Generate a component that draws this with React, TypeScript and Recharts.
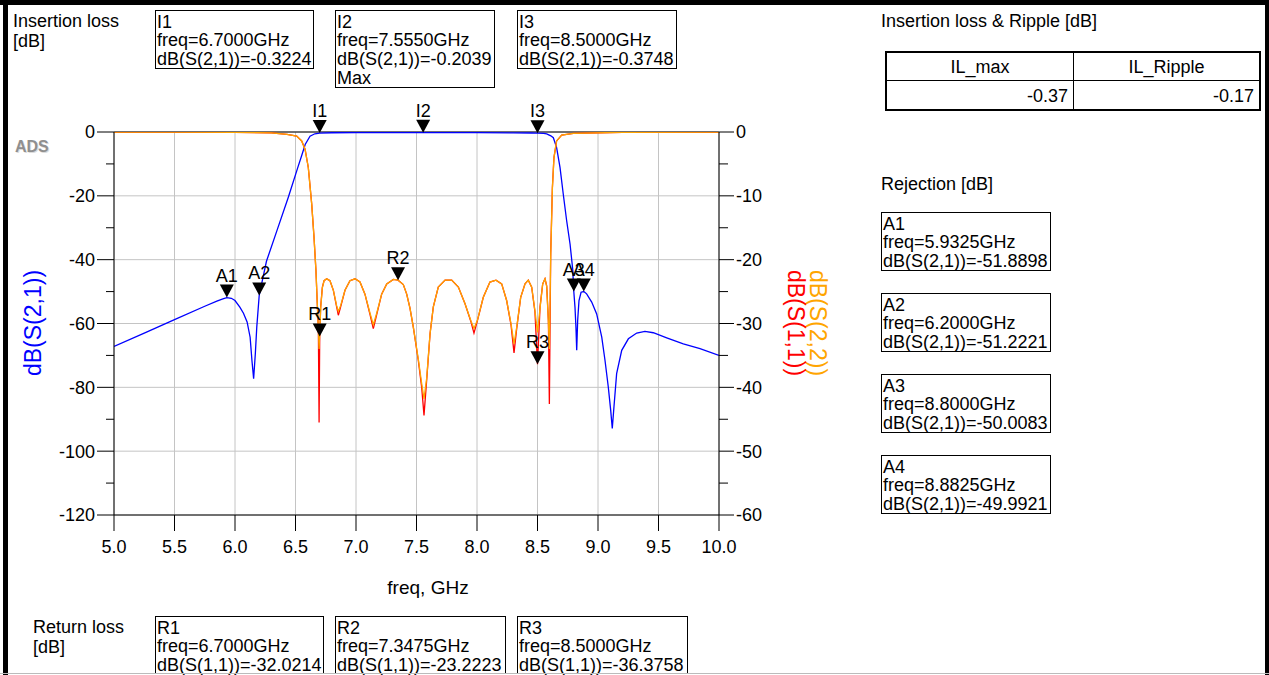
import React from "react";
import { CartesianGrid, Line, LineChart, ReferenceDot, XAxis, YAxis } from "recharts";

const FONT = '"Liberation Sans", Arial, Helvetica, sans-serif';
const BLUE = "#0000ff";
const RED = "#ff0000";
const ORANGE = "#ffa500";

// axis ticks
const freqTicks = [5, 5.5, 6, 6.5, 7, 7.5, 8, 8.5, 9, 9.5, 10];
const leftTicks = [-120, -110, -100, -90, -80, -70, -60, -50, -40, -30, -20, -10, 0];
const rightTicks = [-60, -55, -50, -45, -40, -35, -30, -25, -20, -15, -10, -5, 0];
const gridDb = [-120, -100, -80, -60, -40, -20, 0];

// dB(S(2,1)) - left axis
const s21Freq = [
  5.0, 5.25, 5.5, 5.75, 5.85, 5.9, 5.9325, 5.97, 6.0, 6.04, 6.07, 6.1, 6.125, 6.14, 6.154,
  6.168, 6.18, 6.2, 6.22, 6.26, 6.35, 6.44, 6.52, 6.55, 6.58, 6.62, 6.66, 6.7, 6.8, 7.0,
  7.3, 7.555, 7.8, 8.0, 8.3, 8.45, 8.5, 8.55, 8.576, 8.61, 8.631, 8.658, 8.686, 8.713,
  8.741, 8.769, 8.791, 8.8, 8.81, 8.818, 8.824, 8.832, 8.843, 8.86, 8.8825, 8.906, 8.948,
  8.989, 9.031, 9.058, 9.085, 9.105, 9.118, 9.132, 9.154, 9.196, 9.251, 9.32, 9.388, 9.457,
  9.568, 9.705, 9.843, 10.0,
];
const s21Db = [
  -67.2, -63.0, -58.8, -54.6, -53.0, -52.3, -51.89, -52.1, -52.8, -54.9, -56.8, -59.5, -64.3,
  -71.6, -77.3, -69.5, -61.1, -51.22, -47.6, -40.5, -30.5, -20.5, -11.0, -7.5, -3.9, -1.3,
  -0.55, -0.3224, -0.24, -0.22, -0.21, -0.2039, -0.21, -0.22, -0.26, -0.31, -0.3748, -0.46,
  -0.6, -1.2, -1.8, -4.9, -11.1, -19.5, -27.8, -35.1, -43.0, -50.0, -55.0, -61.5, -68.4,
  -59.0, -52.8, -50.2, -49.99, -50.7, -53.3, -57.0, -64.3, -71.6, -79.9, -87.2, -92.9, -86.1,
  -75.7, -68.4, -64.8, -63.0, -62.5, -62.9, -64.5, -66.4, -67.9, -70.0,
];

// dB(S(1,1)) and dB(S(2,2)) - right axis
const sFreq = [
  5.0, 5.5, 6.0, 6.3, 6.43, 6.51, 6.551, 6.579, 6.606, 6.634, 6.653, 6.669, 6.68, 6.689,
  6.695, 6.7, 6.708, 6.722, 6.736, 6.758, 6.785, 6.813, 6.84, 6.854, 6.873, 6.909, 6.95,
  6.992, 7.033, 7.074, 7.116, 7.143, 7.171, 7.212, 7.254, 7.309, 7.3475, 7.391, 7.419, 7.446,
  7.474, 7.515, 7.543, 7.562, 7.584, 7.612, 7.639, 7.68, 7.736, 7.791, 7.846, 7.901, 7.948,
  7.975, 8.003, 8.052, 8.107, 8.157, 8.204, 8.245, 8.281, 8.306, 8.328, 8.361, 8.397, 8.424,
  8.452, 8.479, 8.5, 8.521, 8.543, 8.562, 8.576, 8.59, 8.598, 8.609, 8.623, 8.636, 8.658,
  8.7, 8.796, 9.2, 10.0,
];
const s11Db = [
  0, -0.01, -0.04, -0.14, -0.36, -0.65, -1.4, -2.7, -5.6, -11.3, -16.5, -21.7, -26.9, -30.8,
  -45.5, -32.02, -27.4, -24.3, -23.3, -23.0, -23.3, -24.8, -27.4, -28.7, -27.4, -24.8, -23.3,
  -23.0, -23.5, -25.4, -28.6, -30.8, -28.6, -25.4, -23.8, -23.1, -23.22, -23.9, -25.4, -27.6,
  -30.6, -35.8, -40.0, -44.4, -38.9, -31.6, -27.4, -24.3, -23.2, -23.2, -24.3, -26.9, -29.6,
  -31.5, -29.6, -25.9, -23.5, -23.2, -23.8, -26.4, -30.2, -34.6, -30.8, -25.9, -23.8, -23.2,
  -24.3, -28.2, -36.38, -27.4, -23.8, -23.0, -24.1, -29.5, -42.6, -19.1, -8.7, -4.0, -1.4,
  -0.47, -0.2, -0.05, 0,
];
const s22Db = [
  0, -0.01, -0.04, -0.14, -0.36, -0.65, -1.4, -2.7, -5.6, -11.3, -16.5, -21.7, -26.9, -30.6,
  -34.0, -31.5, -27.6, -24.4, -23.3, -23.0, -23.3, -24.8, -27.2, -28.1, -27.2, -24.8, -23.3,
  -23.0, -23.5, -25.4, -28.4, -30.2, -28.4, -25.4, -23.8, -23.1, -23.2, -23.9, -25.4, -27.6,
  -30.6, -35.6, -39.4, -41.8, -38.6, -31.6, -27.4, -24.3, -23.2, -23.2, -24.3, -26.9, -29.5,
  -30.8, -29.5, -25.9, -23.5, -23.2, -23.8, -26.4, -30.0, -33.2, -30.6, -25.9, -23.8, -23.2,
  -24.3, -28.0, -31.4, -27.6, -23.8, -23.0, -24.2, -29.8, -34.0, -19.6, -8.9, -4.0, -1.4,
  -0.47, -0.2, -0.05, 0,
];

// markers
const markerNames = ["I1", "I2", "I3", "A1", "A2", "A3", "A4", "R1", "R2", "R3"];
const markerFreqs = [6.7, 7.555, 8.5, 5.9325, 6.2, 8.8, 8.8825, 6.7, 7.3475, 8.5];
const markerValues = [
  -0.3224, -0.2039, -0.3748, -51.8898, -51.2221, -50.0083, -49.9921, -32.0214, -23.2223, -36.3758,
];
const markerTraces = [
  "S(2,1)", "S(2,1)", "S(2,1)", "S(2,1)", "S(2,1)", "S(2,1)", "S(2,1)", "S(1,1)", "S(1,1)", "S(1,1)",
];
const markerNotes = ["", "Max", "", "", "", "", "", "", "", ""];

const tableHeaders = ["IL_max", "IL_Ripple"];
const tableValues = ["-0.37", "-0.17"];

const s21Data = s21Freq.map((f, i) => ({ f, v: s21Db[i] }));
const s11Data = sFreq.map((f, i) => ({ f, v: s11Db[i] }));
const s22Data = sFreq.map((f, i) => ({ f, v: s22Db[i] }));

const markers = markerNames.map((name, i) => ({
  name,
  f: markerFreqs[i],
  v: markerValues[i],
  axis: markerTraces[i] === "S(2,1)" ? "left" : "right",
  lines: [
    name,
    `freq=${markerFreqs[i].toFixed(4)}GHz`,
    `dB(${markerTraces[i]})=${markerValues[i].toFixed(4)}`,
    ...(markerNotes[i] ? [markerNotes[i]] : []),
  ],
}));

const tickText = { fontSize: 18, fontFamily: FONT, fill: "#000" };

function LeftTick(props: any) {
  const { x, y, payload } = props;
  const major = payload.value % 20 === 0;
  return (
    <g>
      <line x1={x - (major ? 17 : 8)} x2={x} y1={y} y2={y} stroke="#000" />
      {major && (
        <text x={x - 19} y={y} dy="0.36em" textAnchor="end" {...tickText}>
          {payload.value}
        </text>
      )}
    </g>
  );
}

function RightTick(props: any) {
  const { x, y, payload } = props;
  const major = payload.value % 10 === 0;
  return (
    <g>
      <line x1={x} x2={x + (major ? 15 : 9)} y1={y} y2={y} stroke="#000" />
      {major && (
        <text x={x + 17} y={y} dy="0.36em" textAnchor="start" {...tickText}>
          {payload.value}
        </text>
      )}
    </g>
  );
}

function FreqTick(props: any) {
  const { x, y, payload } = props;
  return (
    <g>
      <line x1={x} x2={x} y1={y} y2={y + 16} stroke="#000" />
      <text x={x} y={y + 38} textAnchor="middle" {...tickText}>
        {payload.value.toFixed(1)}
      </text>
    </g>
  );
}

function MarkerGlyph({ cx, cy, label }: { cx: number; cy: number; label: string }) {
  return (
    <g>
      <path d={`M${cx},${cy} L${cx - 7},${cy - 13} L${cx + 7},${cy - 13} Z`} fill="#000" />
      <text x={cx} y={cy - 16} textAnchor="middle" {...tickText}>
        {label}
      </text>
    </g>
  );
}

function InfoBox({ left, top, width, height, lines }: any) {
  return (
    <div
      style={{
        position: "absolute",
        left,
        top,
        width,
        height,
        boxSizing: "border-box",
        border: "1px solid #000",
        padding: "1.5px 1px 0 1px",
        font: `18px ${FONT}`,
        lineHeight: "18.8px",
        whiteSpace: "pre",
        color: "#000",
      }}
    >
      {lines.map((l: string) => (
        <div key={l}>{l}</div>
      ))}
    </div>
  );
}

function Caption({ left, top, lines, size = 18, center = false }: any) {
  return (
    <div
      style={{
        position: "absolute",
        left,
        top,
        font: `${size}px ${FONT}`,
        lineHeight: "19.5px",
        whiteSpace: "pre",
        color: "#000",
        transform: center ? "translateX(-50%)" : undefined,
      }}
    >
      {lines.map((l: string) => (
        <div key={l}>{l}</div>
      ))}
    </div>
  );
}

const boxSpots: Record<string, [number, number, number, number]> = {
  I1: [155, 10, 159, 59],
  I2: [335, 10, 160, 78],
  I3: [517, 10, 160, 59],
  A1: [881, 212, 170, 59],
  A2: [881, 293, 170, 59],
  A3: [881, 374, 170, 59],
  A4: [881, 455, 170, 59],
  R1: [155, 616, 169, 58],
  R2: [335, 616, 171, 58],
  R3: [517, 616, 171, 58],
};

export default function App() {
  return (
    <div
      style={{
        position: "absolute",
        left: 0,
        top: 0,
        width: 1269,
        height: 675,
        overflow: "hidden",
        background: "#fff",
        fontFamily: FONT,
      }}
    >
      <LineChart width={1269} height={675} margin={{ top: 132, right: 490, bottom: 120, left: 0 }}>
        <CartesianGrid
          yAxisId="left"
          stroke="#c4c4c4"
          horizontalValues={gridDb}
          verticalValues={freqTicks}
        />
        <CartesianGrid yAxisId="left" stroke="#000" horizontalValues={[0]} vertical={false} />
        <XAxis
          type="number"
          dataKey="f"
          domain={[5, 10]}
          ticks={freqTicks}
          interval={0}
          height={40}
          tickSize={0}
          tickMargin={0}
          tickLine={false}
          axisLine={{ stroke: "#000" }}
          tick={<FreqTick />}
          allowDataOverflow
        />
        <YAxis
          yAxisId="left"
          domain={[-120, 0]}
          ticks={leftTicks}
          interval={0}
          width={114}
          tickSize={0}
          tickMargin={0}
          tickLine={false}
          axisLine={{ stroke: "#000" }}
          tick={<LeftTick />}
          allowDataOverflow
        />
        <YAxis
          yAxisId="right"
          orientation="right"
          domain={[-60, 0]}
          ticks={rightTicks}
          interval={0}
          width={60}
          tickSize={0}
          tickMargin={0}
          tickLine={false}
          axisLine={{ stroke: "#000" }}
          tick={<RightTick />}
          allowDataOverflow
        />
        <Line
          data={s21Data}
          dataKey="v"
          yAxisId="left"
          type="linear"
          stroke={BLUE}
          strokeWidth={1.3}
          dot={false}
          isAnimationActive={false}
        />
        <Line
          data={s11Data}
          dataKey="v"
          yAxisId="right"
          type="linear"
          stroke={RED}
          strokeWidth={1.3}
          dot={false}
          isAnimationActive={false}
        />
        <Line
          data={s22Data}
          dataKey="v"
          yAxisId="right"
          type="linear"
          stroke={ORANGE}
          strokeWidth={1.3}
          dot={false}
          isAnimationActive={false}
        />
        {markers.map((m) => (
          <ReferenceDot
            key={m.name}
            x={m.f}
            y={m.v}
            yAxisId={m.axis}
            r={0}
            ifOverflow="visible"
            shape={(p: any) => <MarkerGlyph cx={p.cx} cy={p.cy} label={m.name} />}
          />
        ))}
      </LineChart>

      {/* axis titles */}
      <svg
        width={1269}
        height={675}
        style={{ position: "absolute", left: 0, top: 0, pointerEvents: "none" }}
      >
        <text
          transform="translate(33,323) rotate(-90)"
          textAnchor="middle"
          dominantBaseline="central"
          fontSize={23}
          fontFamily={FONT}
          fill={BLUE}
        >
          dB(S(2,1))
        </text>
        <g transform="translate(807,323) rotate(90)">
          <text y={-11} textAnchor="middle" dominantBaseline="central" fontSize={23} fontFamily={FONT} fill={ORANGE}>
            dB(S(2,2))
          </text>
          <text y={11} textAnchor="middle" dominantBaseline="central" fontSize={23} fontFamily={FONT} fill={RED}>
            dB(S(1,1))
          </text>
        </g>
        <text x={16} y={153} fontSize={16} fontWeight="bold" fontFamily={FONT} fill="#dcdcdc">
          ADS
        </text>
        <text x={15} y={152} fontSize={16} fontWeight="bold" fontFamily={FONT} fill="#8f8f8f">
          ADS
        </text>
      </svg>

      <Caption left={13} top={12} lines={["Insertion loss", "[dB]"]} />
      <Caption left={33} top={618} lines={["Return loss", "[dB]"]} />
      <Caption left={428} top={578} lines={["freq, GHz"]} size={19} center />
      <Caption left={881} top={12} lines={["Insertion loss & Ripple [dB]"]} />
      <Caption left={881} top={175} lines={["Rejection [dB]"]} />

      {markers.map((m) => {
        const [l, t, w, h] = boxSpots[m.name];
        return <InfoBox key={m.name} left={l} top={t} width={w} height={h} lines={m.lines} />;
      })}

      {/* IL table */}
      <div
        style={{
          position: "absolute",
          left: 885,
          top: 51,
          width: 376,
          height: 60,
          boxSizing: "border-box",
          border: "2px solid #000",
          display: "grid",
          gridTemplateColumns: "187px 185px",
          gridTemplateRows: "28px 28px",
          font: `18px ${FONT}`,
          color: "#000",
        }}
      >
        {tableHeaders.map((h, i) => (
          <div
            key={h}
            style={{
              borderRight: i === 0 ? "1px solid #000" : undefined,
              borderBottom: "1px solid #000",
              textAlign: "center",
              lineHeight: "29px",
            }}
          >
            {h}
          </div>
        ))}
        {tableValues.map((v, i) => (
          <div
            key={i}
            style={{
              borderRight: i === 0 ? "1px solid #000" : undefined,
              textAlign: "right",
              paddingRight: 5,
              lineHeight: "31px",
            }}
          >
            {v}
          </div>
        ))}
      </div>

      {/* page frame */}
      <div style={{ position: "absolute", left: 3, top: 0, width: 5, height: 675, background: "#000" }} />
      <div style={{ position: "absolute", left: 0, top: 0, width: 1269, height: 5, background: "#000" }} />
      <div style={{ position: "absolute", left: 1265, top: 0, width: 4, height: 675, background: "#000" }} />
      <div style={{ position: "absolute", left: 0, top: 673, width: 1269, height: 1, background: "#bbb" }} />
    </div>
  );
}
